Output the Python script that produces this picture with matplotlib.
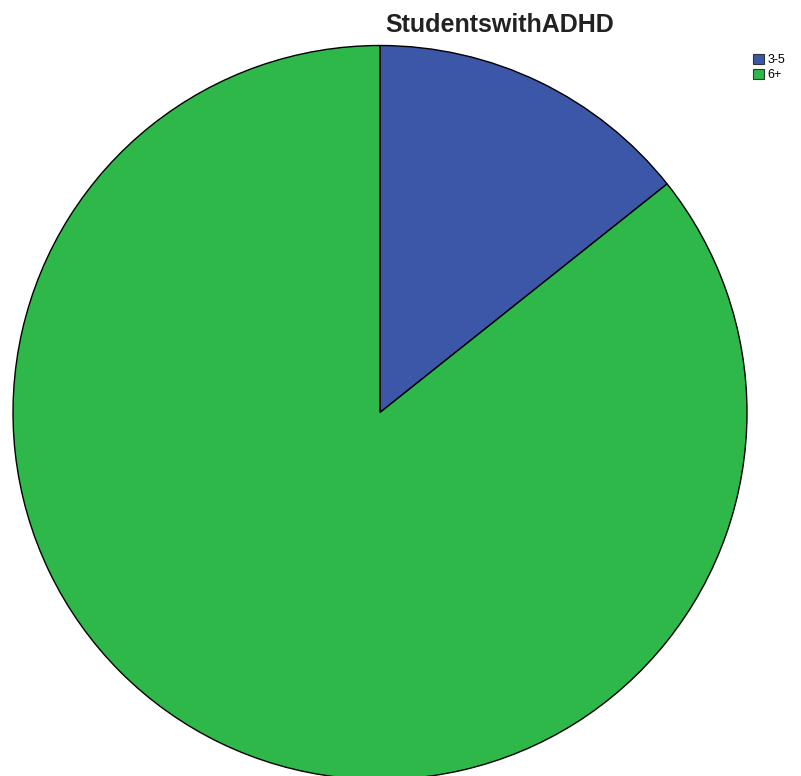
import matplotlib.pyplot as plt
from matplotlib.patches import Patch

# share of students with ADHD by group
labels = ['3-5', '6+']
shares = [14.3, 85.7]
colors = ['#3c56a8', '#2eb84a']

W, H = 801, 776
fig = plt.figure(figsize=(W / 100, H / 100), dpi=100)

# pie centre at (380, 412) px, radius ~367 px
cx, cy, r = 380, 412.5, 367
ax = fig.add_axes([(cx - r) / W, (H - cy - r) / H, 2 * r / W, 2 * r / H])
ax.pie(shares, colors=colors, startangle=90, counterclock=False,
       wedgeprops=dict(edgecolor='black', linewidth=1.0))
ax.set_xlim(-1, 1)
ax.set_ylim(-1, 1)
ax.set_aspect('auto')
ax.axis('off')

fig.text(500 / W, 1 - 25 / H, 'StudentswithADHD', ha='center', va='center',
         fontsize=18, fontweight='bold', family='Liberation Sans', color='#222222')

handles = [Patch(facecolor=c, edgecolor='#333333', linewidth=0.8) for c in colors]
fig.legend(handles, labels, loc='upper left', bbox_to_anchor=(744 / W, 1 - 45 / H),
           frameon=False, prop={'family': 'Liberation Sans', 'size': 9},
           handlelength=0.9, handleheight=0.9, handletextpad=0.3,
           labelspacing=0.2, borderpad=0.2)

fig.savefig('out.png', dpi=100)
